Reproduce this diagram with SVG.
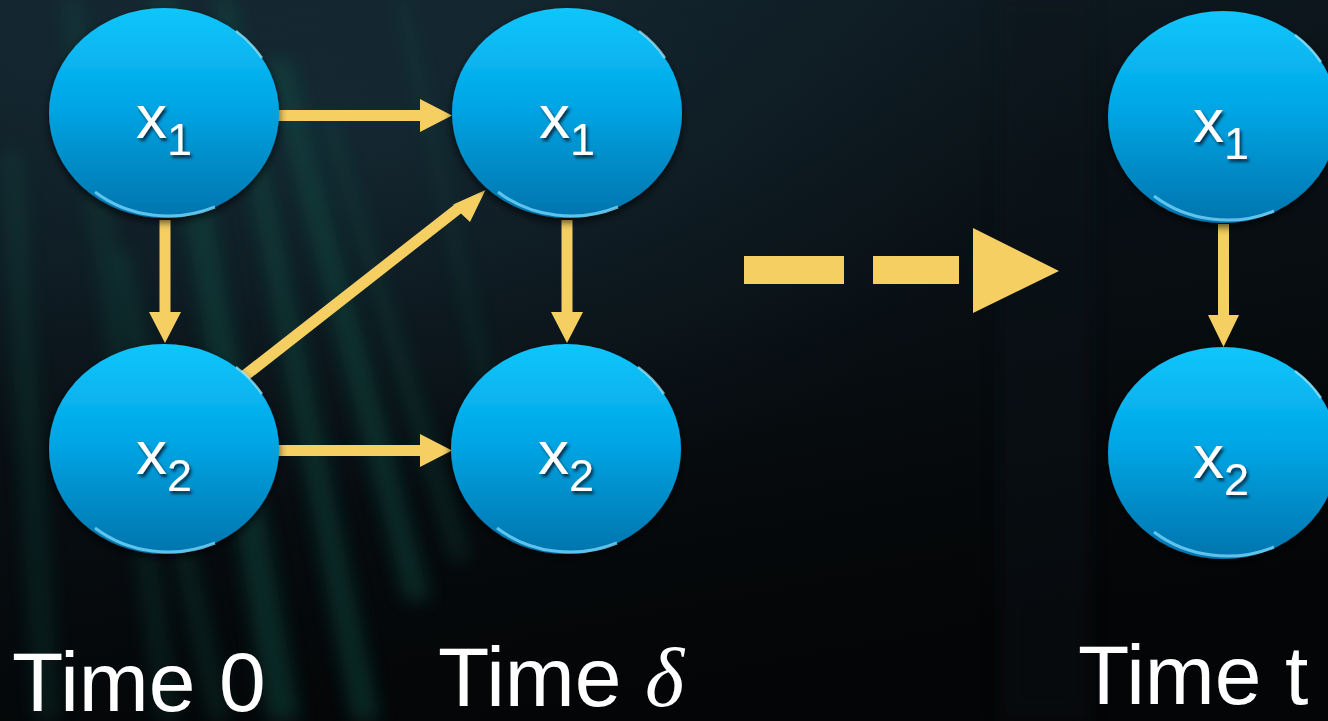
<svg xmlns="http://www.w3.org/2000/svg" width="1328" height="721" viewBox="0 0 1328 721">
  <defs>
    <linearGradient id="bgBase" x1="0" y1="0" x2="0.35" y2="1">
      <stop offset="0" stop-color="#12222b"/>
      <stop offset="0.45" stop-color="#091116"/>
      <stop offset="1" stop-color="#040506"/>
    </linearGradient>
    <radialGradient id="bgGlow" cx="0.25" cy="0.15" r="0.55">
      <stop offset="0" stop-color="#1b3440" stop-opacity="0.55"/>
      <stop offset="1" stop-color="#1b3440" stop-opacity="0"/>
    </radialGradient>
    <linearGradient id="nodeFill" x1="0" y1="0" x2="0" y2="1">
      <stop offset="0" stop-color="#12c6fb"/>
      <stop offset="0.45" stop-color="#00a7e6"/>
      <stop offset="1" stop-color="#0074ad"/>
    </linearGradient>
    <filter id="streakBlur" x="-50%" y="-10%" width="200%" height="120%">
      <feGaussianBlur stdDeviation="9"/>
    </filter>
    <filter id="nodeShadow" x="-20%" y="-20%" width="140%" height="150%">
      <feDropShadow dx="0" dy="4" stdDeviation="4" flood-color="#000" flood-opacity="0.7"/>
    </filter>
    <filter id="textShadow" x="-20%" y="-20%" width="140%" height="150%">
      <feDropShadow dx="2" dy="3" stdDeviation="1.5" flood-color="#002a40" flood-opacity="0.9"/>
    </filter>
    <style>
      .node { fill: url(#nodeFill); filter: url(#nodeShadow); }
      .rimLow { fill: none; stroke: #7fdcff; stroke-width: 3; stroke-opacity: 0.75; }
      .rimHigh { fill: none; stroke: #a9ecff; stroke-width: 2.5; stroke-opacity: 0.7; }
      .lbl { font-family: "Liberation Sans", Arial, sans-serif; font-size: 62px; fill: #ffffff; text-anchor: middle; filter: url(#textShadow); }
      .sub { font-size: 45px; }
      .time { font-family: "Liberation Sans", Arial, sans-serif; font-size: 84px; fill: #ffffff; }
      .arrow { fill: #f5cf62; }
      .streak { fill: #0f5246; filter: url(#streakBlur); }
    </style>
  </defs>

  <!-- backdrop -->
  <rect width="1328" height="721" fill="url(#bgBase)"/>
  <rect width="1328" height="721" fill="url(#bgGlow)"/>
  <g opacity="0.45">
    <polygon class="streak" points="150,0 175,0 300,721 268,721"/>
    <polygon class="streak" points="215,0 232,0 380,721 352,721"/>
    <polygon class="streak" points="60,0 82,0 180,721 158,721" opacity="0.6"/>
    <polygon class="streak" points="265,60 290,60 430,600 405,600"/>
    <polygon class="streak" points="320,120 335,120 470,560 452,560" opacity="0.7"/>
    <polygon class="streak" points="0,150 22,150 60,721 35,721" opacity="0.6"/>
    <polygon class="streak" points="395,0 408,0 520,500 503,500" opacity="0.5"/>
    <polygon class="streak" points="110,250 128,250 230,721 210,721" opacity="0.7"/>
  </g>
  <rect x="1000" y="0" width="90" height="721" fill="#11181d" opacity="0.35" filter="url(#streakBlur)"/>

  <!-- connectors -->
  <g id="connectors">
    <!-- x1(0) -> x1(delta) -->
    <polygon class="arrow" points="278,110 420,110 420,99 452,115.5 420,132 420,121 278,121"/>
    <!-- x2(0) -> x2(delta) -->
    <polygon class="arrow" points="278,445 420,445 420,434 452,450.5 420,467 420,456 278,456"/>
    <!-- x1(0) -> x2(0) -->
    <polygon class="arrow" points="159.5,220 170.5,220 170.5,312 181,312 165,343 149,312 159.5,312"/>
    <!-- x1(delta) -> x2(delta) -->
    <polygon class="arrow" points="561.5,220 572.5,220 572.5,312 583,312 567,343 551,312 561.5,312"/>
    <!-- x1(t) -> x2(t) -->
    <polygon class="arrow" points="1218,224 1229,224 1229,315 1239,315 1223.5,347 1208,315 1218,315"/>
    <!-- x2(0) -> x1(delta) -->
    <polygon class="arrow" points="239.5,372.5 246.5,381.5 461,213.5 470,222 485.5,190 452,205 454.5,204.5"/>
    <!-- dashed jump arrow -->
    <rect class="arrow" x="744" y="256" width="100" height="28"/>
    <rect class="arrow" x="873" y="256" width="86" height="28"/>
    <polygon class="arrow" points="973,228 1059,271 973,313"/>
  </g>

  <!-- time 0 -->
  <g id="n0x1">
    <ellipse class="node" cx="164" cy="113" rx="115" ry="105"/>
    <path class="rimLow" d="M 95,192 A 115 105 0 0 0 215,207"/>
    <path class="rimHigh" d="M 236,31 A 115 105 0 0 1 262,58"/>
    <text class="lbl" x="164" y="138">x<tspan class="sub" dy="17">1</tspan></text>
  </g>
  <g id="n0x2">
    <ellipse class="node" cx="164" cy="449" rx="115" ry="105"/>
    <path class="rimLow" d="M 95,528 A 115 105 0 0 0 215,543"/>
    <path class="rimHigh" d="M 236,367 A 115 105 0 0 1 262,394"/>
    <text class="lbl" x="164" y="474">x<tspan class="sub" dy="17">2</tspan></text>
  </g>

  <!-- time delta -->
  <g id="ndx1">
    <ellipse class="node" cx="567" cy="113" rx="115" ry="105"/>
    <path class="rimLow" d="M 498,192 A 115 105 0 0 0 618,207"/>
    <path class="rimHigh" d="M 639,31 A 115 105 0 0 1 665,58"/>
    <text class="lbl" x="567" y="138">x<tspan class="sub" dy="17">1</tspan></text>
  </g>
  <g id="ndx2">
    <ellipse class="node" cx="566" cy="449" rx="115" ry="105"/>
    <path class="rimLow" d="M 497,528 A 115 105 0 0 0 617,543"/>
    <path class="rimHigh" d="M 638,367 A 115 105 0 0 1 664,394"/>
    <text class="lbl" x="566" y="474">x<tspan class="sub" dy="17">2</tspan></text>
  </g>

  <!-- time t -->
  <g id="ntx1">
    <ellipse class="node" cx="1223" cy="117" rx="115" ry="106"/>
    <path class="rimLow" d="M 1154,196 A 115 105 0 0 0 1274,211"/>
    <path class="rimHigh" d="M 1295,35 A 115 105 0 0 1 1321,62"/>
    <text class="lbl" x="1221" y="142">x<tspan class="sub" dy="17">1</tspan></text>
  </g>
  <g id="ntx2">
    <ellipse class="node" cx="1223" cy="453" rx="115" ry="106"/>
    <path class="rimLow" d="M 1154,532 A 115 105 0 0 0 1274,547"/>
    <path class="rimHigh" d="M 1295,371 A 115 105 0 0 1 1321,398"/>
    <text class="lbl" x="1221" y="478">x<tspan class="sub" dy="17">2</tspan></text>
  </g>

  <!-- time captions -->
  <g id="captions">
    <text class="time" x="12" y="711">Time 0</text>
    <text class="time" x="438" y="706">Time <tspan font-family="'Liberation Serif', 'Times New Roman', serif" font-style="italic">δ</tspan></text>
    <text class="time" x="1078" y="704">Time t</text>
  </g>
</svg>
